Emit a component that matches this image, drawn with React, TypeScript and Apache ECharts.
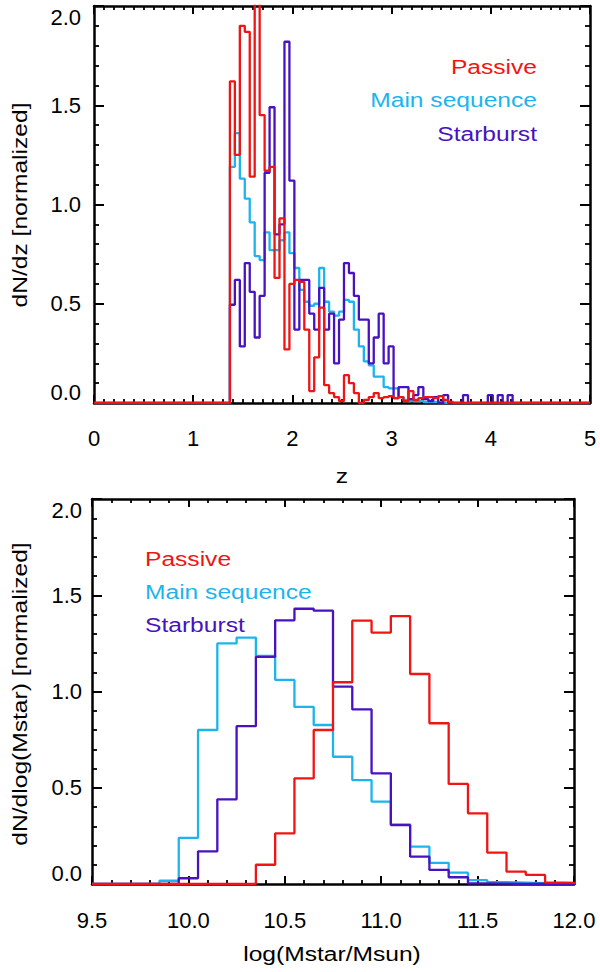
import React, { useEffect, useRef } from "react";
import * as echarts from "echarts";

// ---------- data ----------
const zBinStart = 1.37;
const zBinWidth = 0.05;
const zRange = [0, 5];
const passiveZ = [
  1.62, 1.25, 1.9, 1.87, 1.14, 2.3, 1.45, 1.17, 1.19, 0.63,
  0.93, 0.27, 0.6, 0.62, 0.61, 0.37, 0.06, 0.23, 0.48, 0.09,
  0.05, 0.03, 0.01, 0.14, 0.1, 0.05, 0.0, 0.015, 0.03, 0.05,
  0.025, 0.03, 0.035, 0.025, 0.03, 0.01, 0.06, 0.015, 0.025, 0.03,
  0.03, 0.025, 0.035, 0.015, 0.005, 0, 0, 0, 0, 0,
  0, 0, 0, 0, 0, 0, 0, 0,
];
const mainSeqZ = [
  1.19, 1.36, 1.13, 1.03, 0.91, 0.74, 0.72, 0.86, 0.77, 0.77,
  0.82, 0.86, 0.755, 0.68, 0.57, 0.51, 0.49, 0.5, 0.68, 0.51,
  0.46, 0.44, 0.46, 0.52, 0.51, 0.37, 0.285, 0.21, 0.19, 0.133,
  0.133, 0.08, 0.074, 0.074, 0.03, 0.015, 0.01, 0.01, 0.01, 0.005,
  0.005, 0.005, 0.003, 0, 0, 0, 0, 0, 0, 0,
  0, 0, 0, 0, 0, 0, 0, 0,
];
const starburstZ = [
  0.495, 0.62, 0.285, 0.705, 0.56, 0.33, 0.54, 1.16, 1.49, 0.85,
  0.9, 1.82, 1.12, 0.37, 0.62, 0.62, 0.45, 0.37, 0.58, 0.37,
  0.45, 0.2, 0.42, 0.705, 0.655, 0.54, 0.42, 0.42, 0.2, 0.33,
  0.45, 0.2, 0.285, 0.025, 0.08, 0.08, 0.02, 0.04, 0.08, 0.02,
  0.01, 0.03, 0, 0.04, 0, 0, 0, 0.04, 0, 0,
  0, 0, 0.04, 0, 0.04, 0, 0.04, 0,
];

const mBinStart = 9.85;
const mBinWidth = 0.1;
const massRange = [9.5, 12.0];
const passiveM = [
  0, 0, 0, 0, 0, 0.1, 0.263, 0.549, 0.8, 1.048, 1.368,
  1.306, 1.392, 1.091, 0.835, 0.52, 0.367, 0.163, 0.064, 0.047, 0.007, 0.005,
];
const mainSeqM = [
  0.017, 0.24, 0.8, 1.25, 1.28, 1.185, 1.06, 0.92, 0.826, 0.661, 0.54,
  0.428, 0.31, 0.194, 0.11, 0.059, 0.02, 0.01, 0.007, 0.004, 0.002, 0,
];
const starburstM = [
  0, 0.03, 0.17, 0.44, 0.82, 1.18, 1.37, 1.43, 1.42, 1.025, 0.907,
  0.575, 0.306, 0.142, 0.073, 0.035, 0.003, 0.002, 0, 0.002, 0, 0,
];

const yRange = [0, 2.0];
const legendLabels = ["Passive", "Main sequence", "Starburst"];
const topYTitle = "dN/dz [normalized]";
const bottomYTitle = "dN/dlog(Mstar) [normalized]";
const topXTitle = "z";
const bottomXTitle = "log(Mstar/Msun)";

// ---------- style ----------
const RED = "#f01414";
const CYAN = "#1db4ee";
const PURPLE = "#4812c0";
const FONT = "'Liberation Sans', Arial, Helvetica, sans-serif";
const STRETCH = 1.23;

function steps(start: number, width: number, values: number[], xmin: number, xmax: number) {
  const pts: number[][] = [[xmin, 0]];
  values.forEach((v, i) => pts.push([+(start + i * width).toFixed(4), v]));
  const end = +(start + values.length * width).toFixed(4);
  pts.push([end, 0]);
  if (end < xmax) pts.push([xmax, 0]);
  return pts;
}

function xAxisPair(grid: number, min: number, max: number, interval: number, minorSplit: number, decimals: number, margin: number) {
  const common = {
    type: "value",
    gridIndex: grid,
    min,
    max,
    interval,
    splitLine: { show: false },
    axisLine: { show: true, onZero: false, lineStyle: { color: "#000", width: 2.5 } },
    axisTick: { show: true, inside: true, length: 8, lineStyle: { color: "#000", width: 2 } },
    minorTick: { show: true, splitNumber: minorSplit, length: 4, lineStyle: { color: "#000", width: 1.8 } },
  };
  return [
    {
      ...common,
      position: "bottom",
      axisLabel: {
        show: true,
        margin,
        fontSize: 22,
        color: "#000",
        fontFamily: FONT,
        formatter: (v: number) => v.toFixed(decimals),
      },
    },
    { ...common, position: "top", axisLabel: { show: false } },
  ];
}

function yAxisPair(grid: number, margin: number) {
  const common = {
    type: "value",
    gridIndex: grid,
    min: yRange[0],
    max: yRange[1],
    interval: 0.5,
    splitLine: { show: false },
    axisLine: { show: true, onZero: false, lineStyle: { color: "#000", width: 2.5 } },
    axisTick: { show: true, inside: true, length: 10, lineStyle: { color: "#000", width: 2 } },
    minorTick: { show: true, splitNumber: 5, length: 5, lineStyle: { color: "#000", width: 1.8 } },
  };
  return [
    {
      ...common,
      position: "left",
      axisLabel: {
        show: true,
        margin,
        fontSize: 22,
        color: "#000",
        fontFamily: FONT,
        formatter: (v: number) => v.toFixed(1),
        verticalAlignMaxLabel: "top",
        verticalAlignMinLabel: "bottom",
      },
    },
    { ...common, position: "right", axisLabel: { show: false } },
  ];
}

function lineSeries(name: string, color: string, data: number[][], axis: number) {
  return {
    name,
    type: "line",
    step: "end",
    xAxisIndex: axis,
    yAxisIndex: axis,
    data,
    symbol: "none",
    showSymbol: false,
    clip: true,
    silent: true,
    lineStyle: { color, width: 2.3 },
    emphasis: { disabled: true },
  };
}

function text(str: string, x: number, y: number, color: string, align: string, rotation = 0) {
  return {
    type: "text",
    x,
    y,
    rotation,
    scaleX: STRETCH,
    silent: true,
    style: {
      text: str,
      fill: color,
      font: `20px ${FONT}`,
      align,
      verticalAlign: "middle",
    },
  };
}

const colors = [RED, CYAN, PURPLE];

const option = {
  animation: false,
  backgroundColor: "#fff",
  grid: [
    { left: 94, top: 6, width: 496, height: 397 },
    { left: 92, top: 499, width: 482, height: 385 },
  ],
  xAxis: [
    ...xAxisPair(0, zRange[0], zRange[1], 1, 10, 0, 24),
    ...xAxisPair(1, massRange[0], massRange[1], 0.5, 5, 1, 25),
  ],
  yAxis: [...yAxisPair(0, 13), ...yAxisPair(1, 10)],
  series: [
    lineSeries(legendLabels[1], CYAN, steps(zBinStart, zBinWidth, mainSeqZ, zRange[0], zRange[1]), 0),
    lineSeries(legendLabels[2], PURPLE, steps(zBinStart, zBinWidth, starburstZ, zRange[0], zRange[1]), 0),
    lineSeries(legendLabels[0], RED, steps(zBinStart, zBinWidth, passiveZ, zRange[0], zRange[1]), 0),
    lineSeries(legendLabels[1], CYAN, steps(mBinStart, mBinWidth, mainSeqM, massRange[0], massRange[1]), 2),
    lineSeries(legendLabels[2], PURPLE, steps(mBinStart, mBinWidth, starburstM, massRange[0], massRange[1]), 2),
    lineSeries(legendLabels[0], RED, steps(mBinStart, mBinWidth, passiveM, massRange[0], massRange[1]), 2),
  ].map((s, i) => ({ ...s, xAxisIndex: i < 3 ? 0 : 2, yAxisIndex: i < 3 ? 0 : 2 })),
  graphic: [
    ...legendLabels.map((l, i) => text(l, 537, 67 + i * 33.5, colors[i], "right")),
    ...legendLabels.map((l, i) => text(l, 145, 559 + i * 33.3, colors[i], "left")),
    text(topYTitle, 20, 205, "#000", "center", Math.PI / 2),
    text(bottomYTitle, 20, 694, "#000", "center", Math.PI / 2),
    text(topXTitle, 342, 476, "#000", "center"),
    text(bottomXTitle, 332, 954, "#000", "center"),
  ],
};

export default function App() {
  const ref = useRef<HTMLDivElement>(null);
  useEffect(() => {
    const chart = echarts.init(ref.current as HTMLDivElement, null, { renderer: "svg" });
    chart.setOption(option as any);
    return () => chart.dispose();
  }, []);
  return (
    <div
      ref={ref}
      style={{ position: "absolute", left: 0, top: 0, width: 600, height: 972, background: "#fff" }}
    />
  );
}
